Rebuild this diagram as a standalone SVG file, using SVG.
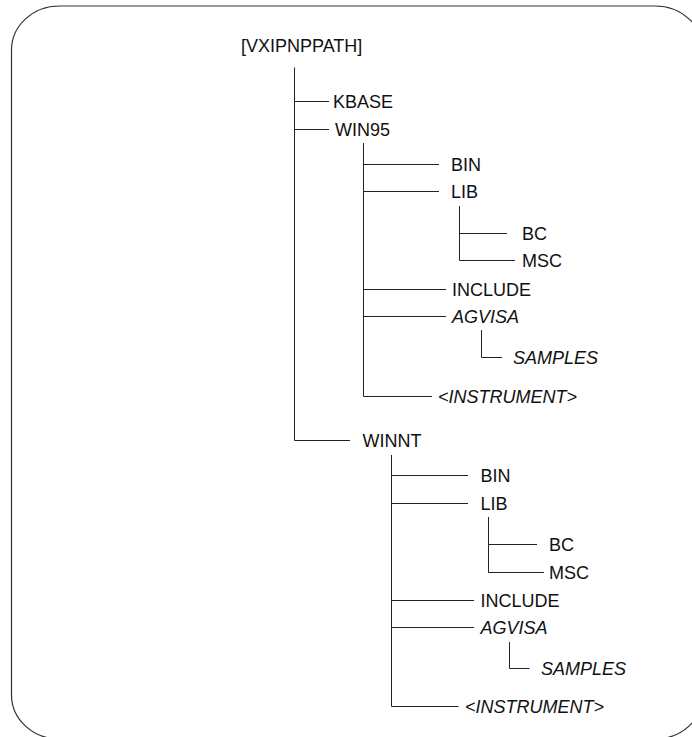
<svg xmlns="http://www.w3.org/2000/svg" width="692" height="737" viewBox="0 0 692 737">
<style>
.frame{fill:none;stroke:#333;stroke-width:1.2}
.c{fill:none;stroke:#222;stroke-width:1}
text{font-family:"Liberation Sans",Arial,sans-serif;font-size:18px;fill:#111}
.i{font-style:italic}
</style>
<rect width="692" height="737" fill="#fff"/>
<rect class="frame" x="11.5" y="6" width="691.5" height="733" rx="48" ry="44"/>
<g id="connectors">
<path class="c" d="M294.5 67.5V440.5H350M294.5 101.5H329M294.5 129.5H329"/>
<path class="c" d="M363.5 143V396.5H432M363.5 164.5H439M363.5 191.5H439M363.5 289.5H446M363.5 316.5H446"/>
<path class="c" d="M459.5 206V260.5H515M459.5 233.5H507"/>
<path class="c" d="M481.5 330V357.5H502"/>
<path class="c" d="M391.5 455V706.5H458.5M391.5 475.5H468M391.5 503.5H468M391.5 600.5H474M391.5 627.5H474"/>
<path class="c" d="M488.5 517V572.5H544M488.5 544.5H537"/>
<path class="c" d="M509.5 642V668.5H529.5"/>
</g>
<g id="root"><text x="241" y="52">[VXIPNPPATH]</text></g>
<g id="kbase"><text x="333" y="107.5">KBASE</text></g>
<g id="win95"><text x="335" y="135.5">WIN95</text></g>
<g id="win95-bin"><text x="451" y="170.5">BIN</text></g>
<g id="win95-lib"><text x="451" y="197.5">LIB</text></g>
<g id="win95-bc"><text x="522" y="239.5">BC</text></g>
<g id="win95-msc"><text x="522" y="266.5">MSC</text></g>
<g id="win95-include"><text x="452" y="295.5">INCLUDE</text></g>
<g id="win95-agvisa"><text class="i" x="452" y="322.5">AGVISA</text></g>
<g id="win95-samples"><text class="i" x="513" y="363.5">SAMPLES</text></g>
<g id="win95-instrument"><text class="i" x="438" y="402.5">&lt;INSTRUMENT&gt;</text></g>
<g id="winnt"><text x="362.5" y="447">WINNT</text></g>
<g id="winnt-bin"><text x="480.5" y="481.5">BIN</text></g>
<g id="winnt-lib"><text x="480.5" y="509.5">LIB</text></g>
<g id="winnt-bc"><text x="549" y="550.5">BC</text></g>
<g id="winnt-msc"><text x="549" y="578.5">MSC</text></g>
<g id="winnt-include"><text x="480.5" y="606.5">INCLUDE</text></g>
<g id="winnt-agvisa"><text class="i" x="480.5" y="633.5">AGVISA</text></g>
<g id="winnt-samples"><text class="i" x="541" y="674.5">SAMPLES</text></g>
<g id="winnt-instrument"><text class="i" x="465" y="712.5">&lt;INSTRUMENT&gt;</text></g>
</svg>
